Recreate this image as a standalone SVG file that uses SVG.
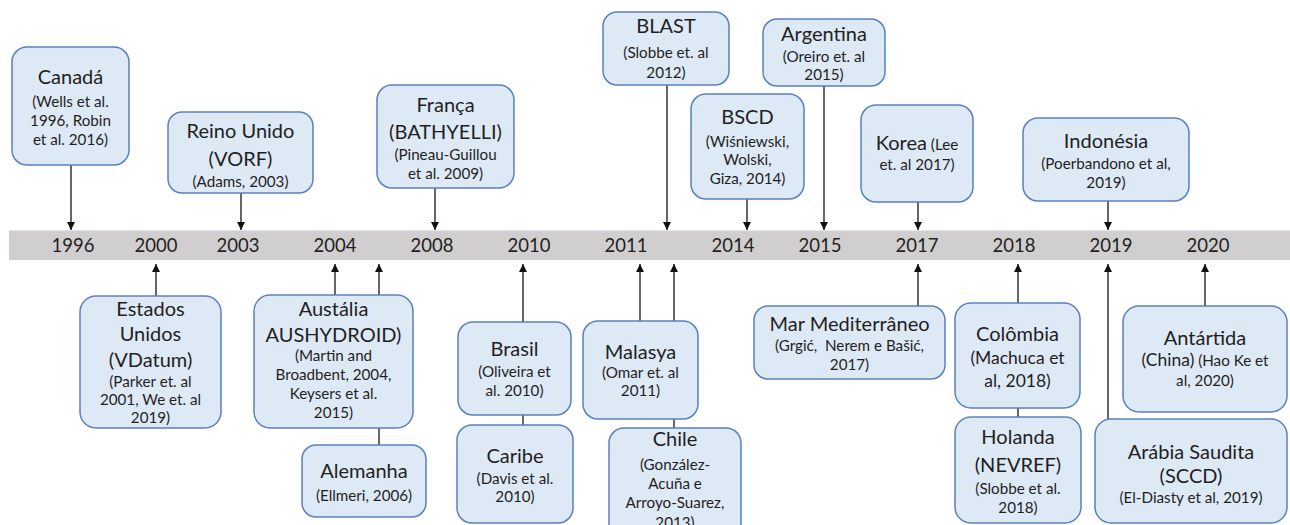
<svg xmlns="http://www.w3.org/2000/svg" width="1290" height="525" viewBox="0 0 1290 525">
<defs>
<style>
.box{fill:#dee9f6;stroke:#5b80bf;stroke-width:1.5}
text{font-family:Lato,"Open Sans","Liberation Sans",sans-serif;fill:#1f1f1f;text-anchor:middle}
.t{font-size:20px}
.s{font-size:15.2px}
.y{font-size:18.5px}
.ln{stroke:#262626;stroke-width:1.4;fill:none}
</style>
<marker id="ah" markerUnits="userSpaceOnUse" markerWidth="9" markerHeight="9" refX="8" refY="4" orient="auto">
<path d="M0,0 L8,4 L0,8 z" fill="#111"/>
</marker>
</defs>
<rect width="1290" height="525" fill="#ffffff"/>
<g id="timeline">
<rect x="9" y="230" width="1281" height="30" fill="#d0cece"/>
<line x1="9" y1="230.5" x2="1290" y2="230.5" stroke="#e6e6ee" stroke-width="1"/>
<text class="y" x="73" y="252">1996</text>
<text class="y" x="156" y="252">2000</text>
<text class="y" x="238" y="252">2003</text>
<text class="y" x="335" y="252">2004</text>
<text class="y" x="432" y="252">2008</text>
<text class="y" x="529" y="252">2010</text>
<text class="y" x="626" y="252">2011</text>
<text class="y" x="733" y="252">2014</text>
<text class="y" x="820" y="252">2015</text>
<text class="y" x="917" y="252">2017</text>
<text class="y" x="1014" y="252">2018</text>
<text class="y" x="1111" y="252">2019</text>
<text class="y" x="1208" y="252">2020</text>
</g>
<g id="connectors">
<line class="ln" x1="71" y1="165" x2="71" y2="230" marker-end="url(#ah)"/>
<line class="ln" x1="241" y1="193" x2="241" y2="230" marker-end="url(#ah)"/>
<line class="ln" x1="435" y1="188" x2="435" y2="230" marker-end="url(#ah)"/>
<line class="ln" x1="667" y1="85" x2="667" y2="230" marker-end="url(#ah)"/>
<line class="ln" x1="747" y1="199" x2="747" y2="230" marker-end="url(#ah)"/>
<line class="ln" x1="824" y1="86" x2="824" y2="230" marker-end="url(#ah)"/>
<line class="ln" x1="918" y1="202" x2="918" y2="230" marker-end="url(#ah)"/>
<line class="ln" x1="1108" y1="201" x2="1108" y2="230" marker-end="url(#ah)"/>
<line class="ln" x1="156" y1="296" x2="156" y2="264" marker-end="url(#ah)"/>
<line class="ln" x1="335" y1="295" x2="335" y2="264" marker-end="url(#ah)"/>
<line class="ln" x1="379" y1="446" x2="379" y2="264" marker-end="url(#ah)"/>
<line class="ln" x1="523" y1="425" x2="523" y2="264" marker-end="url(#ah)"/>
<line class="ln" x1="640" y1="321" x2="640" y2="264" marker-end="url(#ah)"/>
<line class="ln" x1="674" y1="428" x2="674" y2="264" marker-end="url(#ah)"/>
<line class="ln" x1="918" y1="306" x2="918" y2="264" marker-end="url(#ah)"/>
<line class="ln" x1="1018" y1="417" x2="1018" y2="264" marker-end="url(#ah)"/>
<line class="ln" x1="1108" y1="419" x2="1108" y2="264" marker-end="url(#ah)"/>
<line class="ln" x1="1205" y1="306" x2="1205" y2="264" marker-end="url(#ah)"/>
</g>
<g id="canada">
<rect class="box" x="12" y="47" width="117" height="118" rx="15"/>
<text class="t" x="70.5" y="84">Canadá</text>
<text class="s" x="70.5" y="107">(Wells et al.</text>
<text class="s" x="70.5" y="126">1996, Robin</text>
<text class="s" x="70.5" y="145">et al. 2016)</text>
</g>
<g id="reino-unido">
<rect class="box" x="168" y="112" width="145" height="81" rx="14"/>
<text class="t" x="240.5" y="138">Reino Unido</text>
<text class="t" x="240.5" y="166">(VORF)</text>
<text class="s" x="240.5" y="187">(Adams, 2003)</text>
</g>
<g id="franca">
<rect class="box" x="377" y="85" width="137" height="103" rx="15"/>
<text class="t" x="445.5" y="112">França</text>
<text class="t" x="445.5" y="139">(BATHYELLI)</text>
<text class="s" x="445.5" y="160">(Pineau-Guillou</text>
<text class="s" x="445.5" y="179">et al. 2009)</text>
</g>
<g id="blast">
<rect class="box" x="603" y="12" width="126" height="73" rx="14"/>
<text class="t" x="666" y="33">BLAST</text>
<text class="s" x="666" y="58">(Slobbe et. al</text>
<text class="s" x="666" y="78">2012)</text>
</g>
<g id="bscd">
<rect class="box" x="691" y="94" width="113" height="105" rx="15"/>
<text class="t" x="747.5" y="124">BSCD</text>
<text class="s" x="747.5" y="147">(Wiśniewski,</text>
<text class="s" x="747.5" y="165">Wolski,</text>
<text class="s" x="747.5" y="184">Giza, 2014)</text>
</g>
<g id="argentina">
<rect class="box" x="763" y="19" width="122" height="67" rx="14"/>
<text class="t" x="824" y="41">Argentina</text>
<text class="s" x="824" y="62">(Oreiro et. al</text>
<text class="s" x="824" y="80">2015)</text>
</g>
<g id="korea">
<rect class="box" x="861" y="105" width="112" height="97" rx="15"/>
<text x="917" y="150"><tspan class="t">Korea</tspan><tspan class="s"> (Lee</tspan></text>
<text class="s" x="917" y="170">et. al 2017)</text>
</g>
<g id="indonesia">
<rect class="box" x="1023" y="118" width="166" height="83" rx="15"/>
<text class="t" x="1106" y="148">Indonésia</text>
<text class="s" x="1106" y="169">(Poerbandono et al,</text>
<text class="s" x="1106" y="188">2019)</text>
</g>
<g id="estados-unidos">
<rect class="box" x="80" y="296" width="141" height="132" rx="16"/>
<text class="t" x="150.5" y="316">Estados</text>
<text class="t" x="150.5" y="341">Unidos</text>
<text class="t" x="150.5" y="367">(VDatum)</text>
<text class="s" x="150.5" y="387">(Parker et. al</text>
<text class="s" x="150.5" y="405">2001, We et. al</text>
<text class="s" x="150.5" y="423">2019)</text>
</g>
<g id="australia">
<rect class="box" x="254" y="295" width="159" height="133" rx="16"/>
<text class="t" x="333.5" y="316">Austália</text>
<text class="t" x="333.5" y="342">AUSHYDROID)</text>
<text class="s" x="333.5" y="361">(Martin and</text>
<text class="s" x="333.5" y="380">Broadbent, 2004,</text>
<text class="s" x="333.5" y="399">Keysers et al.</text>
<text class="s" x="333.5" y="418">2015)</text>
</g>
<g id="alemanha">
<rect class="box" x="302" y="445" width="124" height="72" rx="14"/>
<text class="t" x="364" y="478">Alemanha</text>
<text class="s" x="364" y="501">(Ellmeri, 2006)</text>
</g>
<g id="brasil">
<rect class="box" x="458" y="322" width="113" height="93" rx="15"/>
<text class="t" x="514.5" y="356">Brasil</text>
<text class="s" x="514.5" y="377">(Oliveira et</text>
<text class="s" x="514.5" y="396">al. 2010)</text>
</g>
<g id="caribe">
<rect class="box" x="457" y="425" width="116" height="98" rx="15"/>
<text class="t" x="515" y="463">Caribe</text>
<text class="s" x="515" y="484">(Davis et al.</text>
<text class="s" x="515" y="502">2010)</text>
</g>
<g id="malasya">
<rect class="box" x="583" y="321" width="115" height="98" rx="15"/>
<text class="t" x="640.5" y="359">Malasya</text>
<text class="s" x="640.5" y="378">(Omar et. al</text>
<text class="s" x="640.5" y="396">2011)</text>
</g>
<g id="chile">
<rect class="box" x="609" y="428" width="132" height="112" rx="15"/>
<text class="t" x="675" y="446">Chile</text>
<text class="s" x="675" y="470">(González-</text>
<text class="s" x="675" y="489">Acuña e</text>
<text class="s" x="675" y="508">Arroyo-Suarez,</text>
<text class="s" x="675" y="528">2013)</text>
</g>
<g id="mar-mediterraneo">
<rect class="box" x="754" y="306" width="191" height="73" rx="14"/>
<text class="t" x="849.5" y="331">Mar Mediterrâneo</text>
<text class="s" x="849.5" y="351" style="white-space:pre">(Grgić,  Nerem e Bašić,</text>
<text class="s" x="849.5" y="370">2017)</text>
</g>
<g id="colombia">
<rect class="box" x="955" y="303" width="125" height="105" rx="16"/>
<text class="t" x="1017.5" y="341">Colômbia</text>
<text x="1017.5" y="364" style="font-size:17.5px">(Machuca et</text>
<text x="1017.5" y="387" style="font-size:17.5px">al, 2018)</text>
</g>
<g id="holanda">
<rect class="box" x="955" y="417" width="126" height="106" rx="16"/>
<text class="t" x="1018" y="444">Holanda</text>
<text class="t" x="1018" y="472">(NEVREF)</text>
<text class="s" x="1018" y="494">(Slobbe et al.</text>
<text class="s" x="1018" y="513">2018)</text>
</g>
<g id="antartida">
<rect class="box" x="1123" y="306" width="164" height="106" rx="16"/>
<text class="t" x="1205" y="345">Antártida</text>
<text x="1205" y="366"><tspan style="font-size:17.5px">(China)</tspan><tspan class="s"> (Hao Ke et</tspan></text>
<text class="s" x="1205" y="386">al, 2020)</text>
</g>
<g id="arabia-saudita">
<rect class="box" x="1095" y="419" width="192" height="104" rx="16"/>
<text class="t" x="1191" y="459">Arábia Saudita</text>
<text class="t" x="1191" y="483">(SCCD)</text>
<text class="s" x="1191" y="503">(El-Diasty et al, 2019)</text>
</g>
</svg>
